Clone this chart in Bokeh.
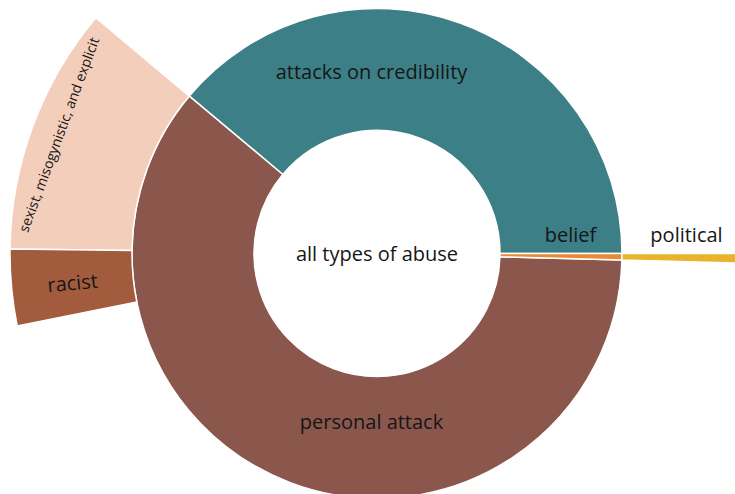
import numpy as np
from bokeh.plotting import figure
from bokeh.models import Range1d
from bokeh.core.properties import value
from bokeh.embed import file_html
from bokeh.resources import INLINE

# ---- data (shares of all abuse, %) ----
root_label = "all types of abuse"
level1_labels = ["attacks on credibility", "personal attack", "belief"]
level1_values = [38.9, 60.7, 0.42]
level1_colors = ["#3c7f86", "#8b564c", "#ea8a36"]

level2_labels = ["sexist, misogynistic, and explicit", "racist", "political"]
level2_parents = ["personal attack", "personal attack", "belief"]
level2_values = [10.92, 3.36, 0.42]
level2_colors = ["#f3cebb", "#a35b3d", "#e9b42b"]

# ---- layout ----
W, H = 735, 494
CX, CY = 376.5, H - 253
R0, R1, R2 = 123, 245, 367

p = figure(width=W, height=H, x_range=Range1d(0, W), y_range=Range1d(0, H),
           output_backend="svg", toolbar_location=None, min_border=0)
p.axis.visible = False
p.grid.visible = False
p.outline_line_color = None
p.background_fill_color = "white"
p.border_fill_color = "white"

total = sum(level1_values)
deg = lambda v: v / total * 2 * np.pi

# level 1
starts1, ends1 = [], []
a = 0.0
for v in level1_values:
    starts1.append(a)
    a += deg(v)
    ends1.append(a)
p.annular_wedge(x=CX, y=CY, inner_radius=R0, outer_radius=R1,
                start_angle=starts1, end_angle=ends1,
                fill_color=level1_colors, line_color="white", line_width=1.5)

# level 2
cursor = {lab: s for lab, s in zip(level1_labels, starts1)}
starts2, ends2 = [], []
for lab, par, v in zip(level2_labels, level2_parents, level2_values):
    s = cursor[par]
    e = s + deg(v)
    cursor[par] = e
    starts2.append(s)
    ends2.append(e)
p.annular_wedge(x=CX, y=CY, inner_radius=R1, outer_radius=R2,
                start_angle=starts2, end_angle=ends2,
                fill_color=level2_colors, line_color="white", line_width=1.5)

# labels
font = value("Open Sans")
big = dict(text_align="center", text_baseline="middle", text_font=font,
           text_font_size="20px", text_color="#161616")
p.text(x=[CX], y=[CY], text=[root_label], **big)
p.text(x=[371], y=[H - 71], text=[level1_labels[0]], **big)
p.text(x=[371], y=[H - 421], text=[level1_labels[1]], **big)
p.text(x=[570], y=[H - 234], text=[level1_labels[2]], **big)
p.text(x=[686], y=[H - 234], text=[level2_labels[2]], **big)

mid_r = (starts2[1] + ends2[1]) / 2
p.text(x=[72], y=[H - 282], text=[level2_labels[1]], angle=[mid_r - np.pi], **big)

mid_s = (starts2[0] + ends2[0]) / 2
p.text(x=[58], y=[H - 134], text=[level2_labels[0]], angle=[mid_s - np.pi / 2],
       text_align="center", text_baseline="middle", text_font=font,
       text_font_size="14px", text_color="#161616")

open("out.html", "w").write(file_html(p, INLINE))
